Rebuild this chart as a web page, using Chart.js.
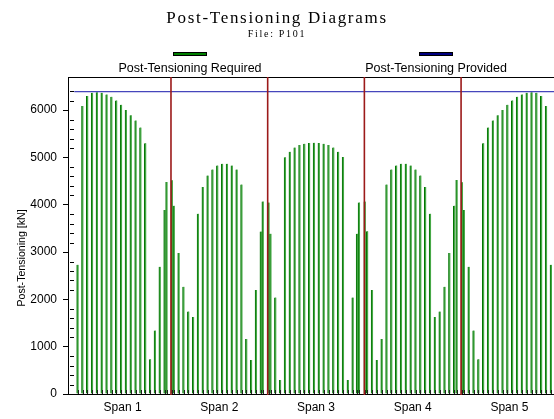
<!DOCTYPE html>
<html>
<head>
<meta charset="utf-8">
<script src="https://cdn.jsdelivr.net/npm/chart.js@4/dist/chart.umd.min.js"></script>
<style>
  html, body { margin: 0; padding: 0; background: #ffffff; }
  canvas { display: block; }
</style>
</head>
<body>
<canvas id="pt" width="554" height="419"></canvas>
<script>
// Stations along the beam (m) where the required force is evaluated
const stations = [
  1.0, 1.5, 2.0, 2.5, 3.0, 3.5, 4.0, 4.5, 5.0, 5.5, 6.0, 6.5, 7.0, 7.5, 8.0,
  8.5, 9.0, 9.5, 10.0, 10.2, 10.75, 10.95,
  11.45, 11.95, 12.45, 12.95,
  13.45, 13.95, 14.45, 14.95, 15.45, 15.95, 16.45, 16.95, 17.45, 17.95,
  18.45, 18.95, 19.45, 19.95, 20.15, 20.75, 20.95, 21.45, 21.95,
  22.45, 22.95, 23.45, 23.95, 24.45, 24.95, 25.45, 25.95, 26.45, 26.95, 27.45, 27.95, 28.45,
  28.95, 29.45, 29.9, 30.1, 30.7, 30.95, 31.45, 31.95, 32.45,
  32.95, 33.45, 33.95, 34.45, 34.95, 35.45, 35.95, 36.45, 36.95, 37.45,
  37.95, 38.45, 38.95, 39.45,
  39.95, 40.2, 40.75, 40.95,
  41.45, 41.95, 42.45,
  42.95, 43.45, 43.95, 44.45, 44.95, 45.45, 45.95, 46.45, 46.95, 47.45, 47.95, 48.45, 48.95, 49.45, 49.95
];

// Required post-tensioning force at each station (kN)
const requiredKN = [
  2730, 6085, 6296, 6367, 6378, 6367, 6332, 6283, 6205, 6114, 6000, 5894, 5782, 5633, 5300,
  735, 1340, 2690, 3890, 4480, 4520, 3980,
  2978, 2266, 1743, 1630,
  3812, 4377, 4617, 4744, 4828, 4864, 4864, 4828, 4744, 4426,
  1165, 720, 2200, 3435, 4070, 4045, 3388, 2040, 296,
  5005, 5118, 5210, 5262, 5290, 5305, 5308, 5305, 5290, 5262, 5210, 5118, 5008,
  296, 2039, 3388, 4050, 4066, 3438, 2196, 720, 1165,
  4426, 4744, 4828, 4864, 4864, 4828, 4744, 4617, 4377, 3812,
  1630, 1743, 2266, 2978,
  3981, 4525, 4475, 3890,
  2690, 1340, 735,
  5300, 5633, 5782, 5894, 6000, 6114, 6205, 6283, 6332, 6367, 6378, 6367, 6296, 6085, 2732
];

// Provided force along the whole beam (kN)
const providedKN = 6390;
const beamEnds = [0.65, 50.65];

// Support lines and span labels
const supports = [10.65, 20.65, 30.65, 40.65];
const spanCentres = [5.65, 15.65, 25.65, 35.65, 45.65];
const spanLabels = ['Span 1', 'Span 2', 'Span 3', 'Span 4', 'Span 5'];

const SANS = "'Liberation Sans', Arial, sans-serif";
const SERIF = "'Liberation Serif', 'Times New Roman', serif";

// Title lettering is spaced out; spacing is cleared before the plot is drawn
const spacedText = {
  id: 'spacedText',
  beforeDraw(chart, args, opts) { chart.ctx.letterSpacing = opts.spacing; },
  beforeDatasetsDraw(chart) { chart.ctx.letterSpacing = '0px'; }
};

// Frame top edge, inner minor ticks, station ticks and support lines
const beamMarks = {
  id: 'beamMarks',
  afterDatasetsDraw(chart, args, opts) {
    const {ctx, chartArea: a, scales: {x, y}} = chart;
    ctx.save();
    ctx.lineWidth = 1;
    ctx.strokeStyle = '#000';
    // top edge of the frame
    ctx.beginPath();
    ctx.moveTo(a.left, Math.round(a.top) + 0.5);
    ctx.lineTo(a.right, Math.round(a.top) + 0.5);
    ctx.stroke();
    // minor y ticks pointing into the plot
    ctx.beginPath();
    y.ticks.forEach(t => {
      if (t.value % 200 === 0 && t.value % 1000 !== 0) {
        const py = Math.round(y.getPixelForValue(t.value)) + 0.5;
        ctx.moveTo(a.left + 2, py);
        ctx.lineTo(a.left + 6, py);
      }
    });
    ctx.stroke();
    // station ticks along the bottom edge
    ctx.strokeStyle = '#222';
    ctx.beginPath();
    stations.forEach(s => {
      const px = Math.round(x.getPixelForValue(s)) + 0.5;
      ctx.moveTo(px, a.bottom);
      ctx.lineTo(px, a.bottom - 4);
    });
    ctx.stroke();
    // supports
    ctx.strokeStyle = opts.supportColor;
    ctx.lineWidth = 1.6;
    ctx.beginPath();
    supports.forEach(s => {
      const px = x.getPixelForValue(s);
      ctx.moveTo(px, a.top);
      ctx.lineTo(px, a.bottom + 1);
    });
    ctx.stroke();
    ctx.restore();
  }
};

// Rotated caption of the force axis
const axisCaption = {
  id: 'axisCaption',
  afterDraw(chart, args, opts) {
    const ctx = chart.ctx;
    ctx.save();
    ctx.letterSpacing = '0px';
    ctx.translate(opts.x, opts.y);
    ctx.rotate(-Math.PI / 2);
    ctx.font = opts.font;
    ctx.fillStyle = '#000';
    ctx.textAlign = 'center';
    ctx.textBaseline = 'middle';
    ctx.fillText(opts.text, 0, 0);
    ctx.restore();
  }
};

// Legend: swatch bar centred above each label
const barLegend = {
  id: 'barLegend',
  afterDraw(chart, args, opts) {
    const ctx = chart.ctx;
    ctx.save();
    ctx.letterSpacing = '0px';
    ctx.font = opts.font;
    ctx.textAlign = 'center';
    ctx.textBaseline = 'middle';
    chart.data.datasets.forEach((ds, i) => {
      const cx = opts.centres[i];
      ctx.fillStyle = ds.swatchColor;
      ctx.fillRect(cx - 17, opts.swatchY, 34, 4);
      ctx.strokeStyle = '#000';
      ctx.lineWidth = 1;
      ctx.strokeRect(cx - 17 + 0.5, opts.swatchY + 0.5, 33, 3);
      ctx.fillStyle = '#000';
      ctx.fillText(ds.label, cx, opts.textY);
    });
    ctx.restore();
  }
};

new Chart(document.getElementById('pt'), {
  data: {
    datasets: [
      {
        type: 'bar',
        label: 'Post-Tensioning Required',
        data: stations.map((s, i) => ({x: s, y: requiredKN[i]})),
        backgroundColor: '#46a846',
        borderColor: '#007400',
        borderWidth: {left: 1, right: 0, top: 0, bottom: 0},
        borderSkipped: false,
        barThickness: 2,
        swatchColor: '#008000',
        order: 2
      },
      {
        type: 'line',
        label: 'Post-Tensioning Provided',
        data: beamEnds.map(s => ({x: s, y: providedKN})),
        borderColor: '#4646bc',
        borderWidth: 1.3,
        pointRadius: 0,
        fill: false,
        swatchColor: '#000080',
        order: 1
      }
    ]
  },
  options: {
    responsive: false,
    animation: false,
    devicePixelRatio: 1,
    layout: {padding: {left: 0, right: 0, top: 0, bottom: 0}},
    plugins: {
      legend: {display: false},
      tooltip: {enabled: false},
      title: {
        display: true,
        text: 'Post-Tensioning Diagrams',
        color: '#000',
        font: {family: SERIF, size: 17, weight: 'normal', lineHeight: 1.0},
        padding: {top: 10, bottom: 0}
      },
      subtitle: {
        display: true,
        text: 'File: P101',
        color: '#000',
        font: {family: SERIF, size: 10, weight: 'normal', lineHeight: 1.0},
        padding: {top: 2, bottom: 38}
      },
      spacedText: {spacing: '1.7px'},
      beamMarks: {supportColor: '#9c1a1a'},
      axisCaption: {
        text: 'Post-Tensioning [kN]',
        font: '10.6px ' + SANS,
        x: 22,
        y: 258
      },
      barLegend: {
        font: '12.5px ' + SANS,
        centres: [190, 436],
        swatchY: 52,
        textY: 69
      }
    },
    scales: {
      x: {
        type: 'linear',
        min: 0,
        max: 50.26,
        offset: false,
        afterBuildTicks: scale => { scale.ticks = spanCentres.map(v => ({value: v})); },
        afterFit: scale => { scale.height = 25; },
        grid: {display: false, drawTicks: false},
        border: {display: true, color: '#000', width: 1},
        ticks: {
          autoSkip: false,
          maxRotation: 0,
          padding: 6,
          color: '#000',
          font: {family: SANS, size: 12},
          z: 1,
          callback: (v, i) => spanLabels[i]
        }
      },
      y: {
        type: 'linear',
        min: 0,
        max: 6700,
        afterFit: scale => { scale.width = 68; },
        border: {display: true, color: '#000', width: 1},
        grid: {
          display: true,
          drawOnChartArea: false,
          drawTicks: true,
          tickLength: 5,
          tickColor: c => (c.tick && c.tick.value % 1000 === 0) ? '#000' : 'rgba(0,0,0,0)'
        },
        ticks: {
          stepSize: 200,
          autoSkip: false,
          padding: 6,
          color: '#000',
          font: {family: SANS, size: 12},
          z: 1,
          callback: v => (v % 1000 === 0 ? String(v) : '')
        }
      }
    }
  },
  plugins: [spacedText, beamMarks, axisCaption, barLegend]
});
</script>
</body>
</html>
